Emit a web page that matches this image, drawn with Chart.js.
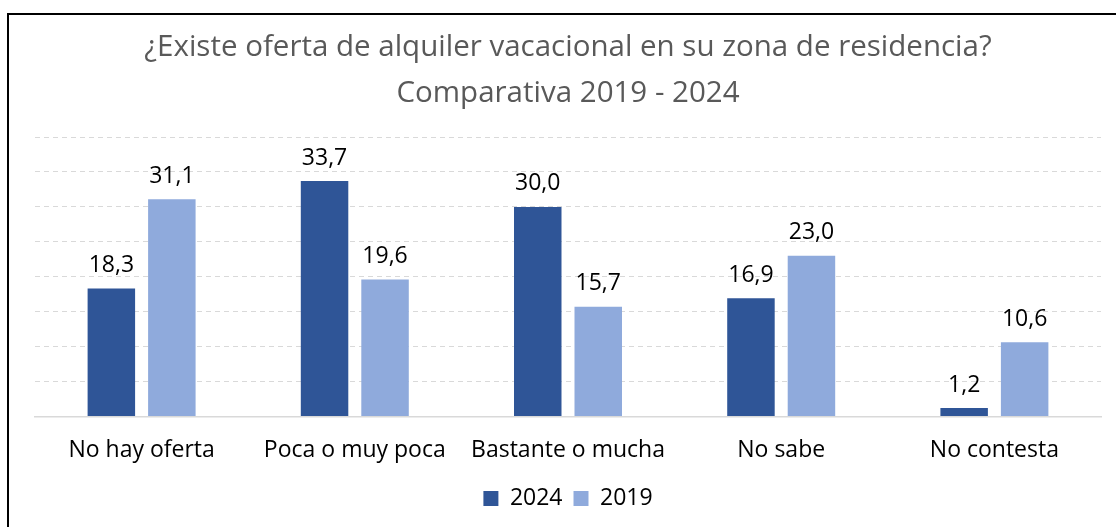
<!DOCTYPE html>
<html>
<head>
<meta charset="utf-8">
<script src="https://cdn.jsdelivr.net/npm/chart.js@4.4.1/dist/chart.umd.min.js"></script>
<style>
  html, body { margin: 0; padding: 0; background: #fff; overflow: hidden; }
  #frame { position: absolute; left: 7px; top: 13px; width: 1200px; height: 600px; border: 2px solid #000; }
  #wrap { position: absolute; left: 0; top: 0; width: 1116px; height: 527px; }
</style>
</head>
<body>
<div id="frame"></div>
<div id="wrap"><canvas id="chart"></canvas></div>
<script>
const categories = ['No hay oferta', 'Poca o muy poca', 'Bastante o mucha', 'No sabe', 'No contesta'];
const values2024 = [18.3, 33.7, 30.0, 16.9, 1.2];
const values2019 = [31.1, 19.6, 15.7, 23.0, 10.6];
const titleLines = ['¿Existe oferta de alquiler vacacional en su zona de residencia?', 'Comparativa 2019 - 2024'];

const FONT = "'Open Sans', sans-serif";

// etiquetas de valor encima de cada barra, con coma decimal
const valueLabels = {
    id: 'valueLabels',
    afterDatasetsDraw(chart) {
        const ctx = chart.ctx;
        ctx.save();
        ctx.font = '23px ' + FONT;
        ctx.fillStyle = '#000';
        ctx.textAlign = 'center';
        ctx.textBaseline = 'middle';
        chart.data.datasets.forEach((ds, i) => {
            chart.getDatasetMeta(i).data.forEach((bar, j) => {
                const txt = ds.data[j].toFixed(1).replace('.', ',');
                ctx.fillText(txt, bar.x, bar.y - 23);
            });
        });
        ctx.restore();
    }
};

const ctxChart = document.getElementById('chart').getContext('2d');

const chart = new Chart(ctxChart, {
    type: 'bar',
    data: {
        labels: categories,
        datasets: [
            {
                label: '2024',
                data: values2024,
                backgroundColor: '#2F5597'
            },
            {
                label: '2019',
                data: values2019,
                backgroundColor: '#8FAADC'
            }
        ]
    },
    options: {
        responsive: true,
        maintainAspectRatio: false,
        animation: false,
        categoryPercentage: 0.5675,
        barPercentage: 0.785,
        layout: {
            padding: { top: 25, left: 35, right: 15, bottom: 7 }
        },
        plugins: {
            title: {
                display: true,
                text: titleLines,
                color: '#595959',
                font: { family: FONT, size: 29.5, weight: 'normal', lineHeight: 1.56 },
                padding: { top: 0, bottom: 20 }
            },
            legend: {
                position: 'bottom',
                labels: {
                    color: '#000',
                    font: { family: FONT, size: 23, lineHeight: 0.65 },
                    boxWidth: 15,
                    boxHeight: 15,
                    padding: 11
                }
            },
            tooltip: { enabled: false }
        },
        scales: {
            x: {
                grid: { display: false },
                border: { display: true, color: '#D9D9D9', width: 1.5 },
                ticks: {
                    color: '#000',
                    font: { family: FONT, size: 23 },
                    padding: 12
                }
            },
            y: {
                min: 0,
                max: 40,
                ticks: { display: false, stepSize: 5 },
                grid: { color: '#D9D9D9', lineWidth: 1, drawTicks: false },
                border: { display: false, dash: [5, 4] }
            }
        }
    },
    plugins: [valueLabels]
});
</script>
</body>
</html>
